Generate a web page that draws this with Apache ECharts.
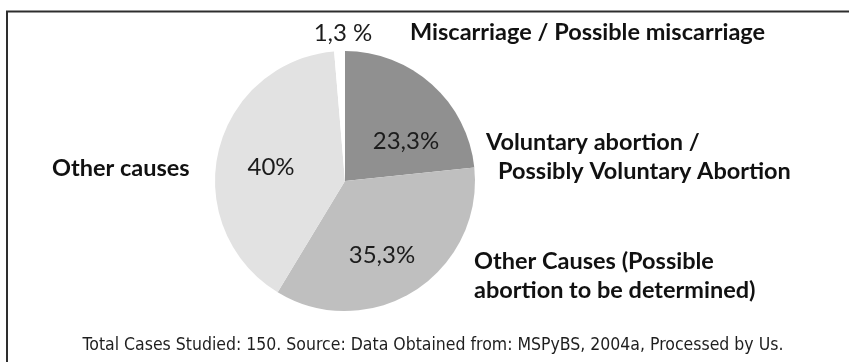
<!DOCTYPE html>
<html>
<head>
<meta charset="utf-8">
<script src="https://cdn.jsdelivr.net/npm/echarts@6/dist/echarts.min.js"></script>
<style>
  html, body { margin: 0; padding: 0; background: #ffffff; }
  #chart { width: 849px; height: 362px; }
</style>
</head>
<body>
<div id="chart"></div>
<script>
// Causes of the studied cases, clockwise from 12 o'clock
const categories = [
  'Voluntary abortion / Possibly Voluntary Abortion',
  'Other Causes (Possible abortion to be determined)',
  'Other causes',
  'Miscarriage / Possible miscarriage'
];
// Category names as they are broken onto lines
const nameLines = [
  ['Voluntary abortion /', 'Possibly Voluntary Abortion'],
  ['Other Causes (Possible', 'abortion to be determined)'],
  ['Other causes'],
  ['Miscarriage / Possible miscarriage']
];
// Number of cases per cause (150 in total)
const caseCounts = [35, 53, 60, 2];
// Share of cases as printed
const shareLabels = ['23,3%', '35,3%', '40%', '1,3 %'];
const footnote = 'Total Cases Studied: 150. Source: Data Obtained from: MSPyBS, 2004a, Processed by Us.';

const sliceColors = ['#909090', '#bfbfbf', '#e2e2e2', '#ffffff'];

// Label anchors (px)
const shareLabelPos = [[406, 141], [382, 255], [271, 167], [343, 33]];
const nameLabelPos = [[486, 157], [474, 276], [52, 168], [410, 32]];
const secondLineIndent = [12, 0, 0, 0];

const PIE_CENTER = [345, 181];
const PIE_RADIUS = 130;

const NAME_FONT = {
  fontFamily: 'Lato, "Open Sans", sans-serif',
  fontWeight: 'bold',
  fontSize: 23.5,
  lineHeight: 29,
  color: '#111111'
};

const pieData = categories.map((name, i) => ({
  name: name,
  value: caseCounts[i],
  itemStyle: { color: sliceColors[i] }
}));

const nameRich = { first: Object.assign({}, NAME_FONT) };
secondLineIndent.forEach((ind, i) => {
  nameRich['rest' + i] = Object.assign({}, NAME_FONT, { padding: [0, 0, 0, ind] });
});

const chart = echarts.init(document.getElementById('chart'), null, { renderer: 'canvas' });

chart.setOption({
  animation: false,
  backgroundColor: '#ffffff',
  graphic: [
    {
      type: 'polyline',
      shape: { points: [[7, 362], [7, 11.5], [849, 11.5]] },
      style: { stroke: '#2e2e2e', lineWidth: 2, fill: null }
    },
    {
      type: 'text',
      x: 433,
      y: 345,
      style: {
        text: footnote,
        fontFamily: '"Liberation Sans Narrow", "DejaVu Sans Condensed", sans-serif',
        fontSize: 17.5,
        fill: '#1e1e1e',
        textAlign: 'center',
        textVerticalAlign: 'middle'
      }
    }
  ],
  series: [
    {
      // slices with their percentage labels
      type: 'pie',
      center: PIE_CENTER,
      radius: [0, PIE_RADIUS],
      startAngle: 90,
      clockwise: true,
      silent: true,
      avoidLabelOverlap: false,
      itemStyle: { borderWidth: 0 },
      label: {
        show: true,
        position: 'inside',
        formatter: p => shareLabels[p.dataIndex],
        fontFamily: 'Lato, "Open Sans", sans-serif',
        fontSize: 24,
        color: '#1c1c1c'
      },
      labelLine: { show: false },
      labelLayout: p => ({
        x: shareLabelPos[p.dataIndex][0],
        y: shareLabelPos[p.dataIndex][1],
        align: 'center',
        verticalAlign: 'middle'
      }),
      data: pieData
    },
    {
      // category names placed beside the pie
      type: 'pie',
      center: PIE_CENTER,
      radius: [0, PIE_RADIUS],
      startAngle: 90,
      clockwise: true,
      silent: true,
      avoidLabelOverlap: false,
      itemStyle: { color: 'transparent', borderWidth: 0 },
      label: {
        show: true,
        position: 'outside',
        formatter: p => nameLines[p.dataIndex]
          .map((l, k) => (k === 0 ? '{first|' + l + '}' : '{rest' + p.dataIndex + '|' + l + '}'))
          .join('\n'),
        rich: nameRich
      },
      labelLine: { show: false },
      labelLayout: p => ({
        x: nameLabelPos[p.dataIndex][0],
        y: nameLabelPos[p.dataIndex][1],
        align: 'left',
        verticalAlign: 'middle'
      }),
      data: categories.map((name, i) => ({ name: name, value: caseCounts[i] }))
    }
  ]
});
</script>
</body>
</html>
